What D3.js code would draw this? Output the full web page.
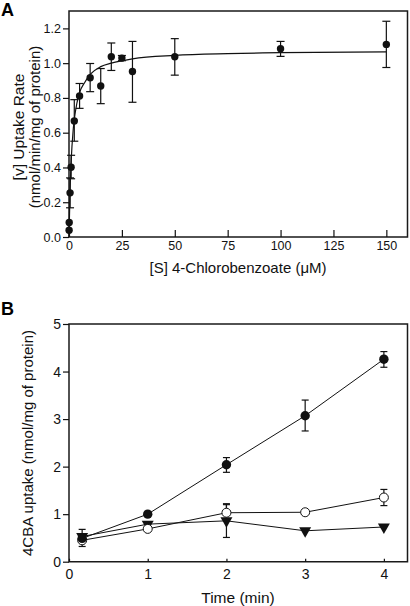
<!DOCTYPE html>
<html><head><meta charset="utf-8">
<script src="https://cdnjs.cloudflare.com/ajax/libs/d3/7.8.5/d3.min.js"></script>
<style>body{margin:0;background:#fff}svg{display:block}text{font-family:"Liberation Sans",Arial,sans-serif}</style>
</head><body>
<script>
// Panel A data
const concA = [0.05, 0.1, 0.5, 1, 2.5, 5, 10, 15, 20, 25, 30, 50, 100, 150];
const rateA = [0.039, 0.083, 0.254, 0.401, 0.667, 0.811, 0.916, 0.869, 1.037, 1.029, 0.952, 1.037, 1.083, 1.108];
const errLoA = [null, null, 0.168, 0.335, 0.551, 0.74, 0.836, 0.767, 0.958, 1.014, 0.775, 0.931, 1.039, 0.975];
const errHiA = [null, null, 0.34, 0.47, 0.79, 0.883, 0.998, 0.969, 1.116, 1.044, 1.125, 1.141, 1.125, 1.241];
const fitX = [0, 0.5, 1, 2, 3, 5, 7.5, 10, 15, 20, 30, 50, 75, 100, 150];
const fitY = [0, 0.27, 0.43, 0.62, 0.72, 0.83, 0.89, 0.935, 0.98, 1.0, 1.025, 1.045, 1.055, 1.06, 1.065];
const xTicksA = [0, 25, 50, 75, 100, 125, 150];
const yTicksA = [0, 0.2, 0.4, 0.6, 0.8, 1.0, 1.2];

// Panel B data
const timeB = [0.167, 1, 2, 3, 4];
const filledB = [0.49, 1.0, 2.04, 3.07, 4.26];
const filledLo = [null, null, 1.88, 2.75, 4.09];
const filledHi = [null, null, 2.19, 3.40, 4.42];
const openB = [0.45, 0.69, 1.03, 1.04, 1.35];
const openLo = [null, null, 0.86, null, 1.18];
const openHi = [null, null, 1.22, null, 1.52];
const triB = [0.53, 0.79, 0.86, 0.65, 0.73];
const triLo = [0.32, null, 0.51, null, null];
const triHi = [0.68, null, 1.20, null, null];
const xTicksB = [0, 1, 2, 3, 4];
const yTicksB = [0, 1, 2, 3, 4, 5];

const svg = d3.select("body").append("svg").attr("width", 410).attr("height", 606);
const ink = "#111";

function drawFrame(g, x, y) {
  const xr = x.range(), yr = y.range();
  const x0 = xr[0], x1 = xr[1], yb = yr[0], yt = yr[1];
  g.append("path").attr("class", "frame")
    .attr("d", "M" + x0 + "," + yt + "L" + x1 + "," + yt + "L" + x1 + "," + yb + "L" + x0 + "," + yb + "Z")
    .attr("fill", "none").attr("stroke", "#1a1a1a").attr("stroke-width", 1.5);
}
function axes(g, x, y, xt, yt, xfmt, yfmt, fs, xtick, xpad) {
  const yb = y.range()[0], xl = x.range()[0];
  const ax = g.append("g").attr("transform", `translate(0,${yb})`)
    .call(d3.axisBottom(x).tickValues(xt).tickFormat(xfmt).tickSizeInner(-xtick).tickSizeOuter(0).tickPadding(xpad));
  ax.select(".domain").remove();
  ax.selectAll("line").attr("stroke", ink).attr("stroke-width", 1.2);
  ax.selectAll("text").attr("font-size", fs).attr("fill", ink);
  const ay = g.append("g").attr("transform", `translate(${xl},0)`)
    .call(d3.axisLeft(y).tickValues(yt).tickFormat(yfmt).tickSizeInner(6).tickSizeOuter(0).tickPadding(2));
  ay.select(".domain").remove();
  ay.selectAll("line").attr("stroke", ink).attr("stroke-width", 1.2);
  ay.selectAll("text").attr("font-size", fs).attr("fill", ink);
}
function errbars(g, x, y, xs, lo, hi, cap) {
  xs.forEach((xv, i) => {
    if (lo[i] == null) return;
    const px = x(xv), a = y(lo[i]), b = y(hi[i]);
    g.append("line").attr("x1", px).attr("x2", px).attr("y1", a).attr("y2", b).attr("stroke", ink).attr("stroke-width", 1.2);
    [a, b].forEach(v => g.append("line").attr("x1", px - cap).attr("x2", px + cap).attr("y1", v).attr("y2", v).attr("stroke", ink).attr("stroke-width", 1.2));
  });
}

// ---- Panel A ----
const xA = d3.scaleLinear().domain([0, 160]).range([69, 407.5]);
const yA = d3.scaleLinear().domain([0, 1.3]).range([237, 11]);
const gA = svg.append("g");
svg.append("text").attr("x", 1).attr("y", 16).attr("font-size", 18).attr("font-weight", "bold").text("A");
drawFrame(gA, xA, yA);
errbars(gA, xA, yA, concA, errLoA, errHiA, 4);
gA.append("path").datum(fitX.map((v, i) => [v, fitY[i]]))
  .attr("d", d3.line().x(d => xA(d[0])).y(d => yA(d[1])).curve(d3.curveMonotoneX))
  .attr("fill", "none").attr("stroke", ink).attr("stroke-width", 1.2);
gA.selectAll("circle.a").data(concA).join("circle")
  .attr("cx", d => xA(d)).attr("cy", (d, i) => yA(rateA[i])).attr("r", 3.7).attr("fill", ink);
axes(gA, xA, yA, xTicksA, yTicksA, d3.format("d"), d3.format(".1f"), 12.5, 7, 4);
gA.append("text").attr("transform", "translate(19,127) rotate(-90)").attr("text-anchor", "middle")
  .attr("font-size", 15.5).attr("dy", "0.35em").attr("fill", ink).text("[v] Uptake Rate");
gA.append("text").attr("transform", "translate(35,127) rotate(-90)").attr("text-anchor", "middle")
  .attr("font-size", 15).attr("dy", "0.35em").attr("fill", ink).text("(nmol/min/mg of protein)");
gA.append("text").attr("x", 238).attr("y", 273).attr("text-anchor", "middle").attr("font-size", 15)
  .attr("fill", ink).text("[S] 4-Chlorobenzoate (μM)");

// ---- Panel B ----
const xB = d3.scaleLinear().domain([0, 4.3]).range([69, 407.5]);
const yB = d3.scaleLinear().domain([0, 5]).range([561.7, 324]);
const gB = svg.append("g");
svg.append("text").attr("x", 1).attr("y", 315).attr("font-size", 18).attr("font-weight", "bold").text("B");
drawFrame(gB, xB, yB);
const lineB = d3.line().x((d, i) => xB(timeB[i])).y(d => yB(d));
[filledB, openB, triB].forEach(s => gB.append("path").datum(s).attr("d", lineB)
  .attr("fill", "none").attr("stroke", ink).attr("stroke-width", 1));
errbars(gB, xB, yB, timeB, filledLo, filledHi, 3.5);
errbars(gB, xB, yB, timeB, openLo, openHi, 3.5);
errbars(gB, xB, yB, timeB, triLo, triHi, 3.5);
gB.selectAll("path.tri").data(triB).join("path").attr("class", "tri")
  .attr("d", d3.symbol(d3.symbolTriangle, 62)())
  .attr("transform", (d, i) => `translate(${xB(timeB[i])},${yB(d)}) rotate(180)`).attr("fill", ink);
gB.selectAll("circle.op").data(openB).join("circle").attr("class", "op")
  .attr("cx", (d, i) => xB(timeB[i])).attr("cy", d => yB(d)).attr("r", 4.5)
  .attr("fill", "#fff").attr("stroke", ink).attr("stroke-width", 1);
gB.selectAll("circle.fi").data(filledB).join("circle").attr("class", "fi")
  .attr("cx", (d, i) => xB(timeB[i])).attr("cy", d => yB(d)).attr("r", 4.7).attr("fill", ink);
axes(gB, xB, yB, xTicksB, yTicksB, d3.format("d"), d3.format("d"), 14, 3, 7);
gB.append("text").attr("transform", "translate(28,443) rotate(-90)").attr("text-anchor", "middle")
  .attr("font-size", 15).attr("dy", "0.35em").attr("fill", ink).text("4CBA uptake (nmol/mg of protein)");
gB.append("text").attr("x", 238).attr("y", 603).attr("text-anchor", "middle").attr("font-size", 15.5)
  .attr("fill", ink).text("Time (min)");
</script>
</body></html>
